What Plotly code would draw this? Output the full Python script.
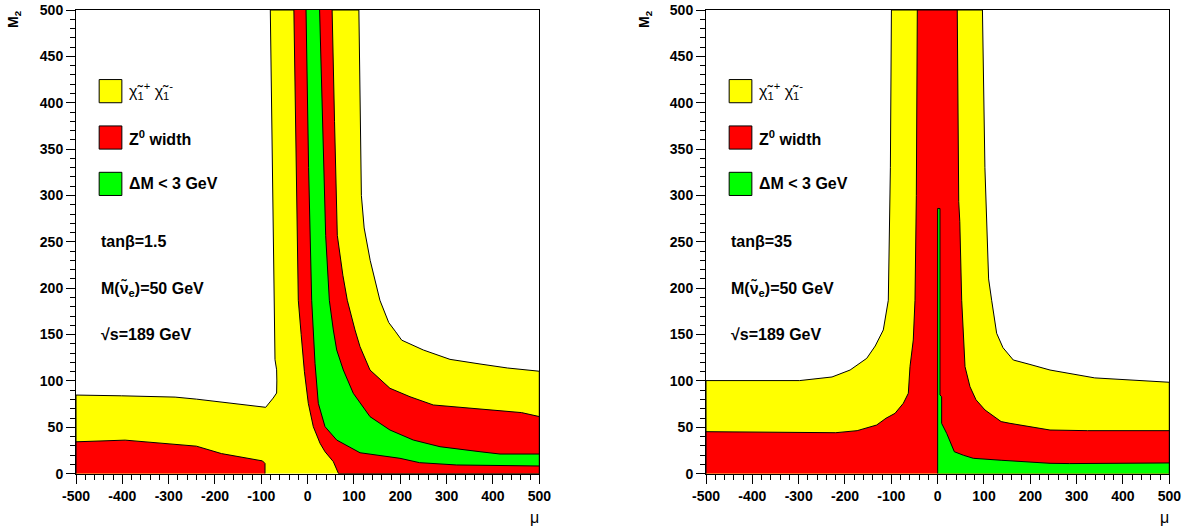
import plotly.graph_objects as go

YELLOW = "#ffff00"
RED = "#ff0000"
GREEN = "#00ff00"

# ---------------- left panel : tan(beta)=1.5 ----------------
L_YEL_MU = [-500, -500, -402, -286, -240, -168, -132, -90.6, -74.5, -67, -66.5, -67, -70.5, -72, -76, -80.6,
            110.6, 116, 122, 135, 156, 175, 190, 203, 249.6, 307.2, 372, 431, 500, 500]
L_YEL_M2 = [0, 84.8, 84, 82.6, 80.4, 75.9, 74, 71.6, 81.5, 87, 100, 112, 123, 187, 330, 500,
            500, 300, 265, 230, 187, 163, 153, 144, 133.4, 123.3, 118.3, 114, 110.5, 0]

L_RED1_MU = [-500, -500, -394, -240, -186, -97.5, -92, -92]
L_RED1_M2 = [0, 34.4, 36.2, 29.7, 21.7, 13.8, 11, 0]

L_RED2_MU = [-29.7, -25, -20.2, -14, -7, 1.4, 12.2, 26.7, 37.5, 55.4, 66.7, 500, 500,
             461.5, 372, 271.2, 220.9, 177.7, 134.6, 113, 102.2, 85.6, 76, 64, 58, 52.8]
L_RED2_M2 = [500, 350, 187, 150, 110, 75.9, 50.7, 32.8, 23.7, 13, 0, 0, 61.6,
             65.9, 69.4, 74.1, 83, 92.1, 111.8, 137, 155, 187, 214, 257, 380, 500]

L_GRN_MU = [-3.5, 2, 8.7, 12.2, 15.9, 23, 37.5, 62.7, 113, 199.3, 241.5, 321.7, 372, 500,
            500, 415.2, 372, 285.7, 228, 177.7, 134.6, 98.5, 77, 62.7, 55.4, 46.8, 38.9, 25.8]
L_GRN_M2 = [500, 330, 187, 155, 119, 75.9, 50.7, 36.3, 22.6, 16.6, 11.9, 9.4, 9, 8.3,
            21.2, 21.2, 23.7, 29.1, 36.3, 47.1, 61.5, 86.7, 111.8, 133.4, 155, 187, 257, 500]

# ---------------- right panel : tan(beta)=35 ----------------
R_YEL_MU = [-500, -500, -298, -228, -189, -153.1, -134.8, -117.3, -106.5, -105, -102, -99.8,
            96.7, 102, 106, 110, 116.6, 127.4, 141, 163.3, 199.3, 242.5, 339, 417, 500, 500]
R_YEL_M2 = [0, 100.4, 100.4, 104.3, 111.8, 124.4, 137.7, 155, 187, 232, 330, 500,
            500, 330, 257, 210, 187, 151.4, 135.9, 122.6, 117.8, 111.8, 103.3, 101.4, 98.6, 0]

R_RED_MU = [-500, -500, -220, -189.2, -173.7, -131.6, -111.5, -92, -74.1, -63.3, -59.7, -52.6, -48.9, -46, -43.9,
            42.3, 45.5, 47.8, 51.9, 59.1, 69.8, 82.8, 102.2, 137, 156.2, 242.5, 323.6, 500, 500]
R_RED_M2 = [0, 45.3, 44.2, 45.3, 46.4, 52.5, 59.8, 65.1, 75.9, 86.7, 115.4, 144.2, 187, 300, 500,
            500, 293.5, 271.7, 187, 115.4, 93.8, 79.7, 68.7, 56.2, 54.3, 47.1, 46.4, 46.4, 0]

R_GRN_MU = [0, 0, 5, 5, 8.6, 8.6, 19.5, 36, 55.6, 77, 137, 242.5, 284.8, 500, 500]
R_GRN_M2 = [0, 286, 286, 84.9, 83, 54.3, 43.5, 23.7, 19.9, 16.6, 14.5, 11.2, 10.9, 11.6, 0]

# ---------------- ticks and texts ----------------
X_TICKS = [-500, -400, -300, -200, -100, 0, 100, 200, 300, 400, 500]
X_TICK_TEXT = ["-500", "-400", "-300", "-200", "-100", "0", "100", "200", "300", "400", "500"]
Y_TICKS = [0, 50, 100, 150, 200, 250, 300, 350, 400, 450, 500]
Y_TICK_TEXT = ["0", "50", "100", "150", "200", "250", "300", "350", "400", "450", "500"]

LEGEND_LABELS = ["χ̃<sub>1</sub><sup>+</sup> χ̃<sub>1</sub><sup>-</sup>", "<b>Z<sup>0</sup> width</b>", "<b>ΔM < 3 GeV</b>"]
LEGEND_COLORS = [YELLOW, RED, GREEN]
LEGEND_BOX_BOTTOM = [400, 350, 300]
LEFT_INFO = ["<b>tanβ=1.5</b>", "<b>M(ν̃<sub>e</sub>)=50 GeV</b>", "<b>√s=189 GeV</b>"]
RIGHT_INFO = ["<b>tanβ=35</b>", "<b>M(ν̃<sub>e</sub>)=50 GeV</b>", "<b>√s=189 GeV</b>"]
INFO_Y = [250, 200, 150]

W, H = 1184, 527
fig = go.Figure()


def poly(mu, m2, color, xa, ya):
    fig.add_trace(go.Scatter(x=mu, y=m2, mode="lines", fill="toself", fillcolor=color,
                             line=dict(color="black", width=1), xaxis=xa, yaxis=ya,
                             hoverinfo="skip", showlegend=False))


poly(L_YEL_MU, L_YEL_M2, YELLOW, "x", "y")
poly(L_RED1_MU, L_RED1_M2, RED, "x", "y")
poly(L_RED2_MU, L_RED2_M2, RED, "x", "y")
poly(L_GRN_MU, L_GRN_M2, GREEN, "x", "y")

poly(R_YEL_MU, R_YEL_M2, YELLOW, "x2", "y2")
poly(R_RED_MU, R_RED_M2, RED, "x2", "y2")
poly(R_GRN_MU, R_GRN_M2, GREEN, "x2", "y2")

tickfont = dict(family="Liberation Sans, Arial, sans-serif", size=14, color="black", weight="bold")


def xaxis(domain, anchor):
    return dict(domain=domain, anchor=anchor, range=[-500, 500], showline=True, linecolor="black",
                linewidth=1, mirror=True, ticks="outside", ticklen=9, tickwidth=1, tickcolor="black",
                tickvals=X_TICKS, ticktext=X_TICK_TEXT, tickfont=tickfont, showgrid=False,
                zeroline=False, fixedrange=True, automargin=False,
                minor=dict(ticks="outside", dtick=20, tick0=0, ticklen=5, tickwidth=1,
                           tickcolor="black", showgrid=False))


def yaxis(domain, anchor):
    return dict(domain=domain, anchor=anchor, range=[0, 500], showline=True, linecolor="black",
                linewidth=1, mirror=True, ticks="outside", ticklen=9, tickwidth=1, tickcolor="black",
                tickvals=Y_TICKS, ticktext=Y_TICK_TEXT, tickfont=tickfont, showgrid=False,
                zeroline=False, fixedrange=True, automargin=False,
                minor=dict(ticks="outside", dtick=10, tick0=0, ticklen=5, tickwidth=1,
                           tickcolor="black", showgrid=False))


ydom = [(H - 473.7) / H, (H - 10) / H]
fig.update_layout(
    width=W, height=H, margin=dict(l=0, r=0, t=0, b=0, pad=0, autoexpand=False),
    paper_bgcolor="white", plot_bgcolor="white", showlegend=False,
    xaxis=xaxis([76 / W, 539.3 / W], "y"),
    yaxis=yaxis(ydom, "x"),
    xaxis2=xaxis([706 / W, 1169.3 / W], "y2"),
    yaxis2=yaxis(ydom, "x2"),
)

shapes = []
annotations = []
textfont = dict(family="Liberation Sans, Arial, sans-serif", size=16, color="black")
for xr, yr, info, ylab_x, mu_x in [("x", "y", LEFT_INFO, 14, 534), ("x2", "y2", RIGHT_INFO, 645, 1164)]:
    for lab, col, yb in zip(LEGEND_LABELS, LEGEND_COLORS, LEGEND_BOX_BOTTOM):
        shapes.append(dict(type="rect", xref=xr, yref=yr, x0=-450, x1=-401, y0=yb, y1=yb + 25,
                           fillcolor=col, line=dict(color="black", width=1), layer="above"))
        annotations.append(dict(xref=xr, yref=yr, x=-390, y=yb + 12.5, text=lab, showarrow=False,
                                xanchor="left", yanchor="middle", font=textfont))
    for t, yy in zip(info, INFO_Y):
        annotations.append(dict(xref=xr, yref=yr, x=-450, y=yy, text=t, showarrow=False,
                                xanchor="left", yanchor="middle", font=textfont))
    annotations.append(dict(xref="paper", yref="paper", x=ylab_x / W, y=1 - 19 / H,
                            text="<b>M<sub>2</sub></b>", textangle=-90, showarrow=False,
                            xanchor="center", yanchor="middle",
                            font=dict(family="Liberation Sans, Arial, sans-serif", size=14, color="black")))
    annotations.append(dict(xref="paper", yref="paper", x=mu_x / W, y=1 - 517 / H,
                            text="μ", showarrow=False, xanchor="center", yanchor="middle",
                            font=dict(family="Liberation Sans, Arial, sans-serif", size=16, color="black")))

fig.update_layout(shapes=shapes, annotations=annotations)
fig.write_html("out.html", config={"displayModeBar": False, "staticPlot": True},
               post_script="document.body.style.margin='0';document.body.style.overflow='hidden';")
